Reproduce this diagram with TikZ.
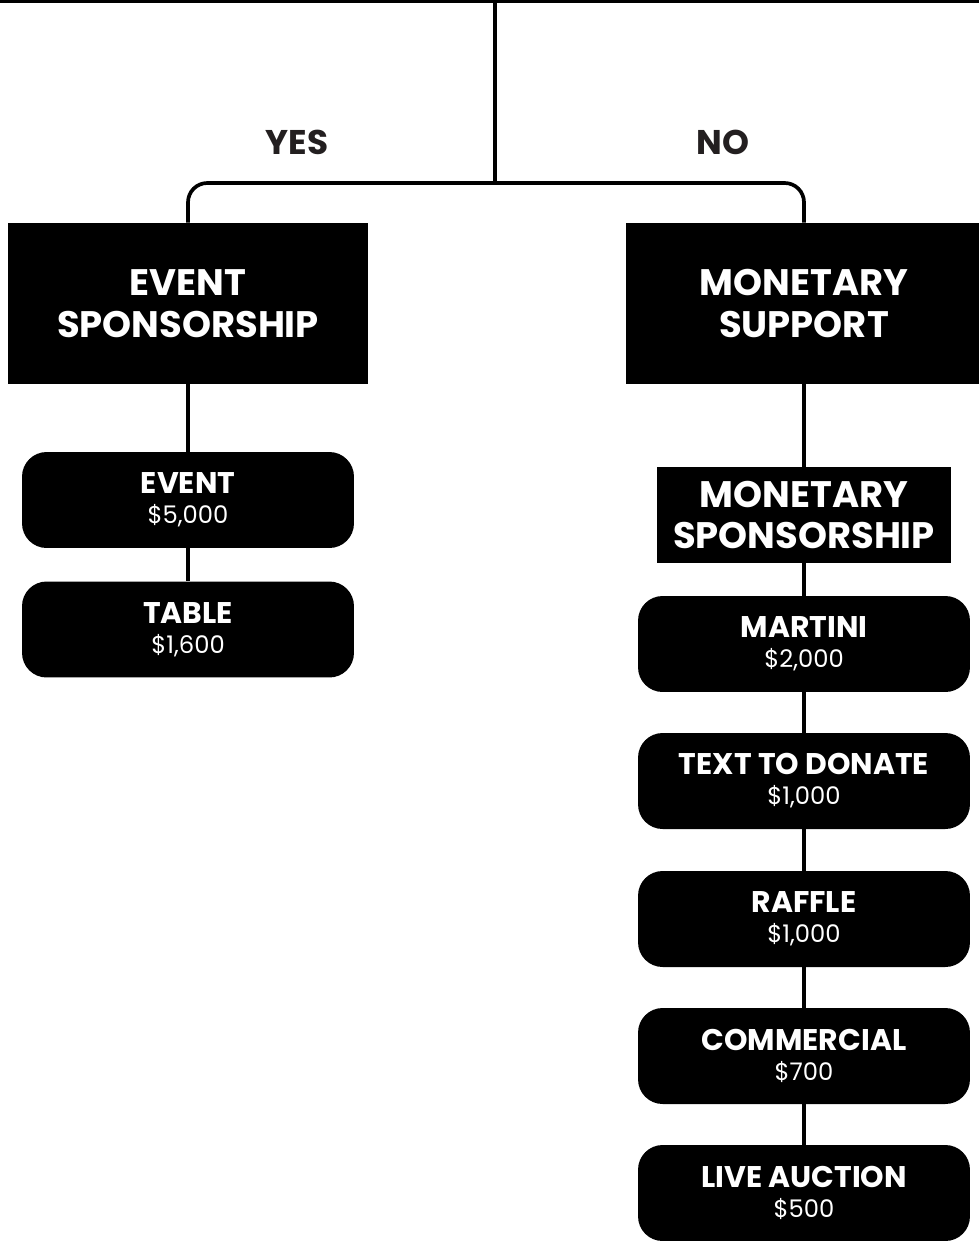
\documentclass[tikz,border=0pt]{standalone}
\usepackage{fontspec}
\setmainfont{Poppins}
\usetikzlibrary{positioning}
\definecolor{ink}{RGB}{35, 31, 32}
\newcommand{\amt}[1]{{\fontsize{13.8}{17}\selectfont\mdseries #1}}

\begin{document}
\begin{tikzpicture}[x=0.02cm, y=-0.02cm,
  head/.style={fill=black, text=white, minimum width=#1, minimum height=3.22cm, inner sep=0pt, align=center, font=\fontsize{21}{24}\selectfont\bfseries},
  sub/.style={fill=black, text=white, minimum width=5.9cm, minimum height=1.92cm, inner sep=0pt, align=center, font=\fontsize{21}{23}\selectfont\bfseries},
  opt/.style={fill=black, text=white, rounded corners=14pt, minimum width=6.64cm, minimum height=1.92cm, inner sep=0pt, align=center, font=\fontsize{17}{17}\selectfont\bfseries},
  link/.style={line width=2.1pt},
  answer/.style={text=ink, font=\fontsize{19.5}{24}\selectfont\bfseries},
]
  \useasboundingbox (0,0) rectangle (979,1241);

  % Question (cut off above)
  \fill (0,-10) rectangle (979,2.5);
  \coordinate (q) at (495,0);
  \coordinate (split) at (495,183);

  % Answers
  \node[answer] (yes) at (297,142) {YES};
  \node[answer] (no) at (723,142) {NO};

  % Branches
  \node[head=7.2cm] (evs) at (188,303.5) {EVENT\\SPONSORSHIP};
  \node[head=7.12cm] (mons) at (804,303.5) {MONETARY\\SUPPORT};

  \draw[link] (q) -- (split);
  \draw[link, rounded corners=11pt] (evs.north) |- (split) -| (mons.north);

  % Event options
  \node[opt] (event) at (188,500) {EVENT\\\amt{\$5,000}};
  \node[opt] (table) at (188,629.5) {TABLE\\\amt{\$1,600}};

  \draw[link] (evs) -- (event);
  \draw[link] (event) -- (table);

  % Monetary options
  \node[sub] (msp) at (804,515) {MONETARY\\SPONSORSHIP};
  \node[opt] (martini) at (804,644) {MARTINI\\\amt{\$2,000}};
  \node[opt] (donate) at (804,781) {TEXT TO DONATE\\\amt{\$1,000}};
  \node[opt] (raffle) at (804,919) {RAFFLE\\\amt{\$1,000}};
  \node[opt] (ad) at (804,1056) {COMMERCIAL\\\amt{\$700}};
  \node[opt] (auction) at (804,1193) {LIVE AUCTION\\\amt{\$500}};

  \draw[link] (mons) -- (msp);
  \draw[link] (msp) -- (martini);
  \draw[link] (martini) -- (donate);
  \draw[link] (donate) -- (raffle);
  \draw[link] (raffle) -- (ad);
  \draw[link] (ad) -- (auction);
\end{tikzpicture}
\end{document}
